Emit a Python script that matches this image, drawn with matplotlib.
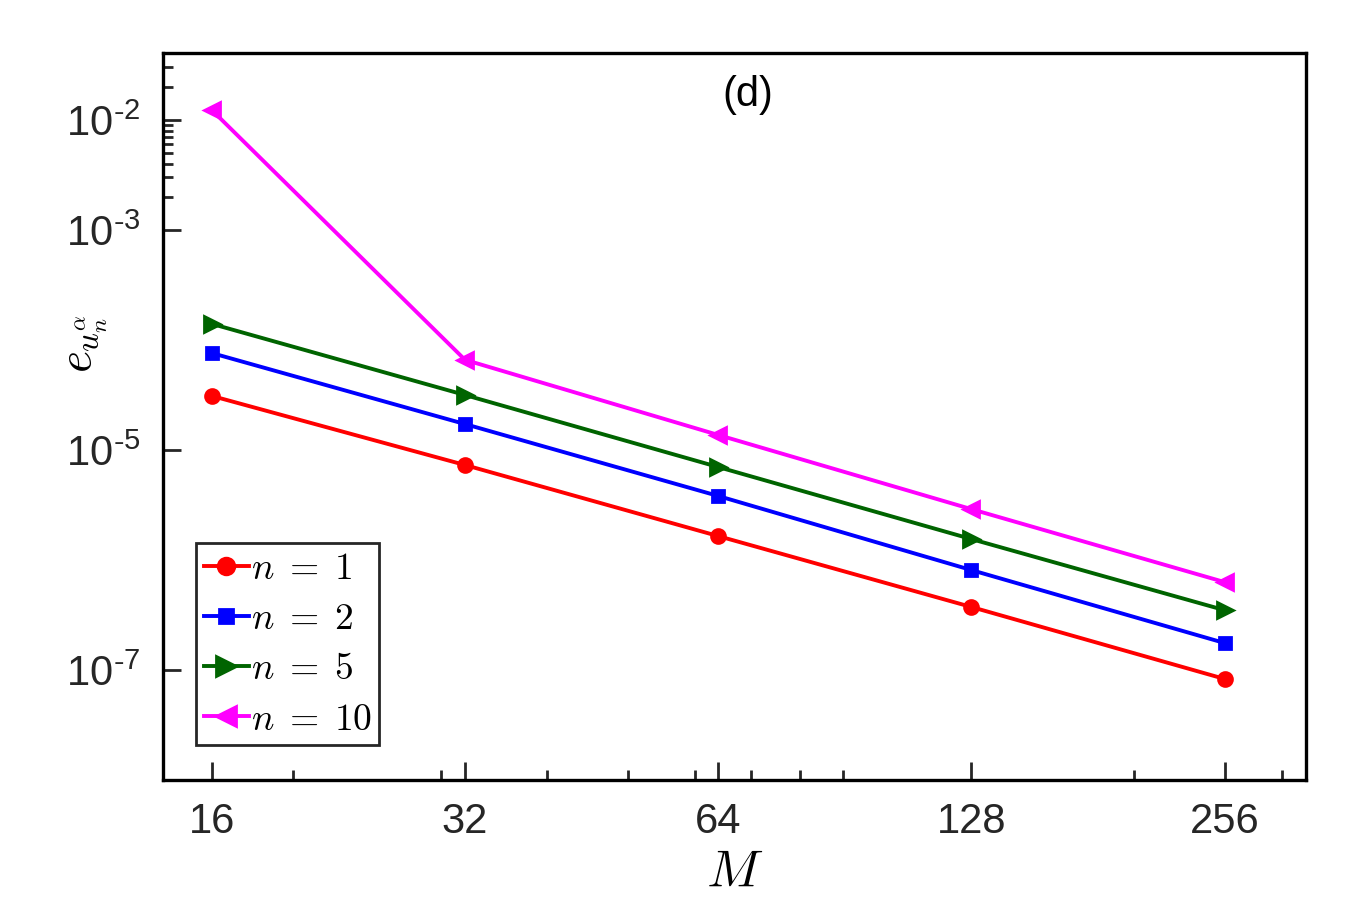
import numpy as np
import matplotlib
matplotlib.use("Agg")
import matplotlib.pyplot as plt
from matplotlib.ticker import FixedLocator, NullFormatter, FixedFormatter

plt.rcParams['font.family'] = ['Liberation Sans', 'DejaVu Sans']
plt.rcParams['mathtext.fontset'] = 'cm'

M = [16, 32, 64, 128, 256]
err_n1 = [3.1e-5, 7.3e-6, 1.65e-6, 3.74e-7, 8.3e-8]
err_n2 = [7.6e-5, 1.72e-5, 3.82e-6, 8.1e-7, 1.76e-7]
err_n5 = [1.40e-4, 3.16e-5, 7.0e-6, 1.55e-6, 3.5e-7]
err_n10 = [1.23e-2, 6.6e-5, 1.37e-5, 2.9e-6, 6.3e-7]

fig = plt.figure(figsize=(6.8, 4.535), dpi=200)
ax = fig.add_axes([0.1199, 0.140, 0.8404, 0.8017])

ax.loglog(M, err_n1, '-o', color='#ff0000', lw=1.4, ms=5, label=r'$n\;=\;1$')
ax.loglog(M, err_n2, '-s', color='#0000ff', lw=1.4, ms=4, label=r'$n\;=\;2$')
ax.loglog(M, err_n5, '->', color='#006400', lw=1.4, ms=6, label=r'$n\;=\;5$')
ax.loglog(M, err_n10, '-<', color='#ff00ff', lw=1.4, ms=6, label=r'$n\;=\;10$')

ax.set_xlim(14, 320)
ax.set_ylim(1e-8, 4.07e-2)

ax.xaxis.set_major_locator(FixedLocator(M))
ax.xaxis.set_major_formatter(FixedFormatter([str(m) for m in M]))
ax.xaxis.set_minor_locator(FixedLocator([20, 30, 40, 50, 60, 70, 80, 90, 200, 300]))
ax.xaxis.set_minor_formatter(NullFormatter())

yt = [1e-7, 1e-5, 1e-3, 1e-2]
ylabels = ['10$^{\\mathregular{\\text{-}%d}}$' % k for k in (7, 5, 3, 2)]
ax.yaxis.set_major_locator(FixedLocator(yt))
ax.yaxis.set_major_formatter(FixedFormatter(ylabels))
yminor = [k * 1e-3 for k in range(2, 10)] + [2e-2, 3e-2]
ax.yaxis.set_minor_locator(FixedLocator(yminor))
ax.yaxis.set_minor_formatter(NullFormatter())

ax.tick_params(which='both', direction='in', labelsize=15, colors='#262626', width=1.0)
ax.tick_params(which='major', length=6.5, pad=8)
ax.tick_params(which='minor', length=3.5)
for s in ax.spines.values():
    s.set_linewidth(1.2)

ax.set_xlabel(r'$M$', fontsize=19, labelpad=2)
ax.set_ylabel(r'$e_{u_n^\alpha}$', fontsize=17)
ax.yaxis.set_label_coords(-0.047, 0.6)
ax.text(0.512, 0.942, '(d)', transform=ax.transAxes, ha='center', va='center', fontsize=15)

leg = ax.legend(loc='lower left', bbox_to_anchor=(0.029, 0.048), fontsize=13.5,
                handlelength=1.2, handletextpad=0.05, borderpad=0.2, labelspacing=0.38,
                fancybox=False, framealpha=1, edgecolor='#262626', borderaxespad=0,
                markerscale=1.2)
leg.get_frame().set_linewidth(1.0)

fig.savefig('out.png', dpi=200)
